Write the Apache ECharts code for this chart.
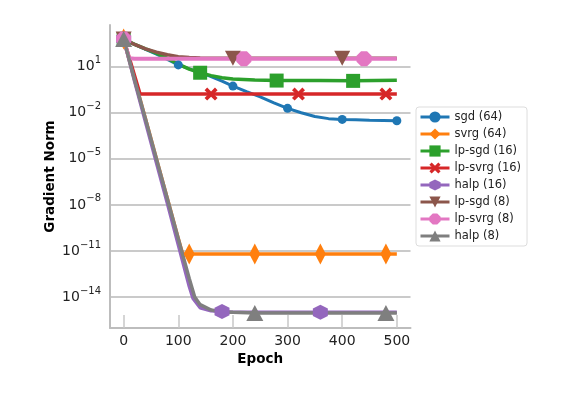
<!DOCTYPE html>
<html>
<head>
<meta charset="utf-8">
<script src="https://cdn.jsdelivr.net/npm/echarts@6/dist/echarts.min.js"></script>
<style>
  html, body { margin: 0; padding: 0; background: #fff; }
  #chart { width: 567px; height: 397px; }
</style>
</head>
<body>
<div id="chart"></div>
<script>
// tick positions
const xTicks = [0, 100, 200, 300, 400, 500];
const yTickExponents = [-14, -11, -8, -5, -2, 1];

const names = ["sgd (64)", "svrg (64)", "lp-sgd (16)", "lp-svrg (16)", "halp (16)", "lp-sgd (8)", "lp-svrg (8)", "halp (8)"];
const colors = ["#1f77b4", "#ff7f0e", "#2ca02c", "#d62728", "#9467bd", "#8c564b", "#e377c2", "#7f7f7f"];
// a marker every N epochs
const markEvery = [100, 120, 140, 160, 180, 200, 220, 240];

// log10 of gradient norm
const sgdEpoch = [0, 20, 40, 60, 80, 100, 120, 140, 160, 180, 200, 225, 250, 275, 300, 325, 350, 375, 400, 425, 450, 475, 500];
const sgdLog = [2.8, 2.45, 2.13, 1.82, 1.48, 1.12, 0.86, 0.63, 0.36, 0.06, -0.26, -0.62, -0.96, -1.35, -1.71, -2.0, -2.24, -2.38, -2.43, -2.45, -2.48, -2.5, -2.52];

const svrgEpoch = [0, 20, 40, 60, 80, 100, 108, 120, 240, 360, 480, 500];
const svrgLog = [2.8, 0.15, -2.4, -5.0, -7.6, -10.2, -11.2, -11.2, -11.2, -11.2, -11.2, -11.2];

const lpSgd16Epoch = [0, 20, 40, 60, 80, 100, 120, 140, 160, 180, 200, 240, 280, 320, 360, 420, 460, 500];
const lpSgd16Log = [2.8, 2.46, 2.16, 1.88, 1.55, 1.17, 0.85, 0.61, 0.42, 0.28, 0.2, 0.13, 0.1, 0.1, 0.1, 0.08, 0.1, 0.12];

const lpSvrg16Epoch = [0, 30, 160, 320, 480, 500];
const lpSvrg16Log = [2.8, -0.78, -0.78, -0.78, -0.78, -0.78];

const halp16Epoch = [0, 20, 40, 60, 80, 100, 120, 127, 140, 160, 180, 200, 360, 500];
const halp16Log = [2.8, 0.05, -2.6, -5.25, -7.9, -10.6, -13.3, -14.1, -14.7, -14.9, -14.95, -15.0, -15.0, -15.0];

const lpSgd8Epoch = [0, 20, 40, 60, 80, 100, 120, 140, 200, 400, 500];
const lpSgd8Log = [2.8, 2.45, 2.16, 1.95, 1.78, 1.66, 1.6, 1.57, 1.56, 1.56, 1.56];

const lpSvrg8Epoch = [0, 10, 20, 220, 440, 500];
const lpSvrg8Log = [2.8, 1.55, 1.52, 1.52, 1.52, 1.52];

const halp8Epoch = [0, 20, 40, 60, 80, 100, 120, 130, 140, 160, 180, 200, 240, 480, 500];
const halp8Log = [2.8, 0.15, -2.4, -5.0, -7.6, -10.2, -12.8, -14.0, -14.5, -14.85, -14.97, -15.0, -15.05, -15.05, -15.05];

const epochs = [sgdEpoch, svrgEpoch, lpSgd16Epoch, lpSvrg16Epoch, halp16Epoch, lpSgd8Epoch, lpSvrg8Epoch, halp8Epoch];
const logs = [sgdLog, svrgLog, lpSgd16Log, lpSvrg16Log, halp16Log, lpSgd8Log, lpSvrg8Log, halp8Log];

const symbols = [
  "circle",
  "diamond",
  "rect",
  "path://M2,0 L5,3 L8,0 L10,2 L7,5 L10,8 L8,10 L5,7 L2,10 L0,8 L3,5 L0,2 Z",
  "path://M5,0 L9.33,2.5 L9.33,7.5 L5,10 L0.67,7.5 L0.67,2.5 Z",
  "path://M0,0 L10,0 L5,9 Z",
  "path://M3,0 L7,0 L10,3 L10,7 L7,10 L3,10 L0,7 L0,3 Z",
  "triangle",
];
const symbolSizes = [9, [11, 21], 14, 13, 15, [16, 15], 15, [17, 16]];
const lineWidths = [3, 3.5, 3.5, 3.5, 3.5, 3.5, 4, 3.5];

var myChart = echarts.init(document.getElementById("chart"));

let series = names.map(function (name, i) {
  let data = epochs[i].map(function (e, j) {
    let item = { value: [e, Math.pow(10, logs[i][j])] };
    if (e % markEvery[i] !== 0) item.symbol = "none";
    return item;
  });
  return {
    name: name,
    type: "line",
    data: data,
    symbol: symbols[i],
    symbolSize: symbolSizes[i],
    showSymbol: true,
    animation: false,
    lineStyle: { width: lineWidths[i], color: colors[i] },
    itemStyle: { color: colors[i], opacity: 1 },
  };
});

function supText(v) {
  let e = Math.round(Math.log10(v));
  return "{b|10}{s|" + (e < 0 ? "\u2212" + -e : e) + "}";
}

let option = {
  backgroundColor: "#fff",
  color: colors,
  textStyle: { fontFamily: "DejaVu Sans" },
  grid: { left: 110, right: 156.5, top: 25, bottom: 69 },
  legend: {
    orient: "vertical",
    left: 416,
    top: 107,
    itemWidth: 29,
    itemHeight: 14,
    itemGap: 5,
    padding: [4, 6, 4, 3],
    borderColor: "#dddddd",
    borderWidth: 1,
    borderRadius: 3,
    backgroundColor: "#fff",
    lineStyle: { width: 3 },
    textStyle: { fontSize: 11.5, color: "#222", fontFamily: "DejaVu Sans" },
    data: names,
  },
  xAxis: {
    type: "value",
    min: -25,
    max: 525,
    name: "Epoch",
    nameLocation: "middle",
    nameGap: 24,
    nameTextStyle: { fontSize: 13.5, fontWeight: "bold", color: "#000", fontFamily: "DejaVu Sans" },
    splitLine: { show: false },
    axisLine: { show: true, onZero: false, lineStyle: { color: "#bdbdbd", width: 2 } },
    axisTick: { show: true, inside: true, length: 13, customValues: xTicks, lineStyle: { color: "#c8c8c8", width: 1.5 } },
    axisLabel: { customValues: xTicks, fontSize: 14, color: "#222", margin: 6, fontFamily: "DejaVu Sans" },
  },
  yAxis: {
    type: "log",
    logBase: 10,
    min: Math.pow(10, -16.02),
    max: Math.pow(10, 3.72),
    name: "Gradient Norm",
    nameLocation: "middle",
    nameGap: 53,
    nameMoveOverlap: false,
    nameTextStyle: { fontSize: 13.5, fontWeight: "bold", color: "#000", fontFamily: "DejaVu Sans" },
    axisLine: { show: true, onZero: false, lineStyle: { color: "#bdbdbd", width: 2 } },
    axisTick: { show: false, customValues: yTickExponents.map(function (e) { return Math.pow(10, e); }) },
    splitLine: { show: true, lineStyle: { color: "#b8b8b8", width: 1.5 } },
    axisLabel: {
      customValues: yTickExponents.map(function (e) { return Math.pow(10, e); }),
      formatter: supText,
      margin: 9,
      color: "#222",
      rich: {
        b: { fontSize: 14, lineHeight: 22, color: "#222", fontFamily: "DejaVu Sans" },
        s: { fontSize: 10, lineHeight: 12, verticalAlign: "top", color: "#222", fontFamily: "DejaVu Sans" },
      },
    },
  },
  series: series,
};

myChart.setOption(option);
</script>
</body>
</html>
